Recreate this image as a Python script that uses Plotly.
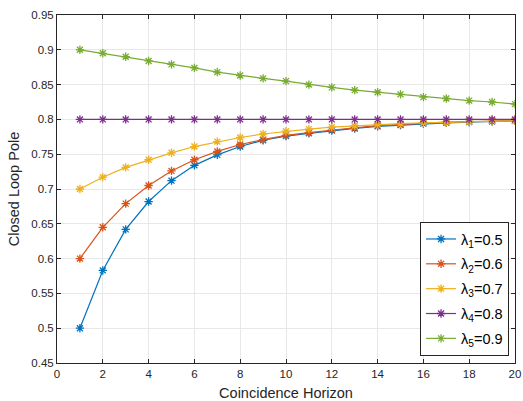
import plotly.graph_objects as go

# Coincidence horizon values
horizon = list(range(1, 21))

# Closed loop pole for each lambda
pole_l1 = [0.500, 0.583, 0.642, 0.682, 0.712, 0.734, 0.749, 0.761, 0.770, 0.776,
           0.780, 0.784, 0.787, 0.790, 0.792, 0.794, 0.795, 0.796, 0.797, 0.798]
pole_l2 = [0.600, 0.645, 0.679, 0.705, 0.726, 0.742, 0.754, 0.764, 0.771, 0.777,
           0.781, 0.785, 0.788, 0.791, 0.793, 0.795, 0.796, 0.797, 0.798, 0.798]
pole_l3 = [0.700, 0.717, 0.731, 0.742, 0.752, 0.761, 0.768, 0.774, 0.779, 0.783,
           0.786, 0.789, 0.791, 0.793, 0.794, 0.795, 0.796, 0.797, 0.798, 0.798]
pole_l4 = [0.800] * 20
pole_l5 = [0.900, 0.895, 0.890, 0.884, 0.879, 0.874, 0.868, 0.863, 0.859, 0.855,
           0.850, 0.846, 0.842, 0.839, 0.836, 0.832, 0.830, 0.827, 0.825, 0.822]

series_names = ["λ<sub>1</sub>=0.5", "λ<sub>2</sub>=0.6", "λ<sub>3</sub>=0.7",
                "λ<sub>4</sub>=0.8", "λ<sub>5</sub>=0.9"]
series_values = [pole_l1, pole_l2, pole_l3, pole_l4, pole_l5]
colors = ["#0072BD", "#D95319", "#EDB120", "#7E2F8E", "#77AC30"]

x_ticks = list(range(0, 21, 2))
y_ticks = [0.45, 0.5, 0.55, 0.6, 0.65, 0.7, 0.75, 0.8, 0.85, 0.9, 0.95]
y_tick_labels = ["0.45", "0.5", "0.55", "0.6", "0.65", "0.7", "0.75", "0.8", "0.85", "0.9", "0.95"]

fig = go.Figure()
for i, (name, vals, col) in enumerate(zip(series_names, series_values, colors)):
    fig.add_trace(go.Scatter(
        x=horizon, y=vals, name=name, mode="lines+markers",
        legendgroup=f"g{i}",
        line=dict(color=col, width=1.2),
        marker=dict(symbol="asterisk-open", size=7, color=col,
                    line=dict(color=col, width=1.3)),
    ))

axis_color = "#262626"
font_family = "Liberation Sans, Arial, Helvetica, sans-serif"

fig.update_layout(
    width=523, height=401,
    margin=dict(l=57, r=8, t=15, b=38),
    paper_bgcolor="white", plot_bgcolor="white",
    font=dict(family=font_family, size=11.5, color=axis_color),
    showlegend=True,
    legend=dict(
        x=0.987, y=0.02, xanchor="right", yanchor="bottom",
        bgcolor="white", bordercolor="#262626", borderwidth=1,
        font=dict(family=font_family, size=14.5, color="#000000"),
        itemwidth=30, tracegroupgap=3,
    ),
)

fig.update_xaxes(
    range=[0, 20], tickvals=x_ticks, ticks="inside", ticklen=4,
    tickcolor=axis_color, showline=True, linecolor=axis_color, linewidth=1,
    mirror="allticks", showgrid=True, gridcolor="#e8e8e8", gridwidth=1,
    zeroline=False, automargin=False,
    tickfont=dict(size=11.5, color=axis_color),
    title=dict(text="Coincidence Horizon", font=dict(size=14.5, color=axis_color), standoff=12),
)
fig.update_yaxes(
    range=[0.45, 0.95], tickvals=y_ticks, ticktext=y_tick_labels,
    ticks="inside", ticklen=4,
    tickcolor=axis_color, showline=True, linecolor=axis_color, linewidth=1,
    mirror="allticks", showgrid=True, gridcolor="#e8e8e8", gridwidth=1,
    zeroline=False, automargin=False,
    tickfont=dict(size=11.5, color=axis_color),
    title=dict(text="Closed Loop Pole", font=dict(size=14.5, color=axis_color), standoff=8),
)

fig.write_html("out.html")
